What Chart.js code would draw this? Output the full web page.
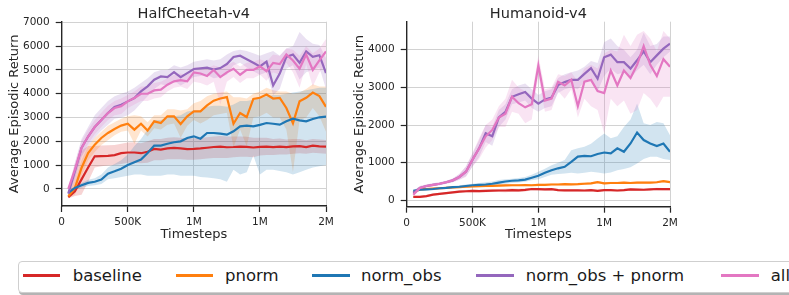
<!DOCTYPE html>
<html><head><meta charset="utf-8">
<script src="https://cdn.jsdelivr.net/npm/chart.js@4.4.1/dist/chart.umd.min.js"></script>
<style>
html,body{margin:0;padding:0;background:#fff;width:789px;height:295px;overflow:hidden;font-family:"DejaVu Sans",sans-serif;}
canvas{position:absolute;top:0;}
#c1{left:0;}
#c2{left:345px;}
#legendBox{position:absolute;left:18px;top:261px;width:820px;height:30px;border:1px solid #cfcfcf;border-radius:4px;box-shadow:1px 2px 0 #b4b4b4;background:#fff;}
.lline{position:absolute;top:273.5px;height:3px;}
.ltext{position:absolute;top:266px;font-size:16.5px;line-height:20px;color:#1a1a1a;white-space:pre;font-family:"DejaVu Sans",sans-serif;}
</style></head>
<body>
<canvas id="c1" width="345" height="250"></canvas>
<canvas id="c2" width="345" height="250"></canvas>
<div id="legendBox"></div>
<div id="legendItems"></div>
<script>
const timesteps = [50000,100000,150000,200000,250000,300000,350000,400000,450000,500000,
 550000,600000,650000,700000,750000,800000,850000,900000,950000,1000000,
 1050000,1100000,1150000,1200000,1250000,1300000,1350000,1400000,1450000,1500000,
 1550000,1600000,1650000,1700000,1750000,1800000,1850000,1900000,1950000,2000000];
const xTickValues = [0,500000,1000000,1500000,2000000];
const xTickLabels = ["0","500K","1M","1M","2M"];
const hcYTicks = [0,1000,2000,3000,4000,5000,6000,7000];
const hmYTicks = [0,1000,2000,3000,4000];
const panelTitles = ["HalfCheetah-v4","Humanoid-v4"];
const xTitle = "Timesteps";
const yTitle = "Average Episodic Return";
const seriesNames = ["baseline","pnorm","norm_obs","norm_obs + pnorm","all"];
const seriesColors = ["#d62728","#ff7f0e","#1f77b4","#9467bd","#e377c2"];
const bandColors = ["rgba(214,39,40,0.2)","rgba(255,127,14,0.2)","rgba(31,119,180,0.2)","rgba(148,103,189,0.2)","rgba(227,119,194,0.2)"];

// HalfCheetah-v4
const hcBaseline = [-350,-100,400,900,1370,1380,1390,1420,1500,1530,
 1530,1500,1560,1680,1650,1700,1720,1700,1670,1680,
 1700,1730,1760,1780,1750,1760,1780,1770,1740,1770,
 1780,1760,1780,1760,1790,1800,1760,1820,1790,1780];
const hcBaselineLo = [-400,-300,-250,300,900,950,980,1000,1050,1100,
 1100,1080,1100,1200,1200,1250,1250,1250,1220,1230,
 1250,1280,1300,1300,1300,1330,1350,1350,1330,1400,
 1420,1420,1450,1450,1480,1500,1480,1520,1500,1480];
const hcBaselineHi = [-280,600,1600,1800,1800,1820,1830,1850,1900,1950,
 1960,1920,2000,2100,2100,2150,2170,2150,2120,2130,
 2150,2170,2200,2220,2200,2200,2200,2190,2150,2150,
 2150,2100,2120,2080,2100,2100,2050,2100,2080,2060];
const hcPnorm = [-310,40,880,1510,1860,2140,2350,2520,2660,2740,
 2490,2740,2450,2840,2770,3050,3050,2730,3050,3260,
 3260,3510,3710,3800,3860,2740,3190,3020,3780,3830,
 3970,3800,3830,3400,2760,3680,3830,4050,3900,3450];
const hcPnormLo = [-380,-250,550,1200,1550,1850,2050,2250,2400,2450,
 1900,2450,2200,2550,2500,2700,2750,2150,2650,2900,
 2750,2900,3100,3150,3200,1750,2500,1800,3000,3050,
 3200,3000,3000,2500,700,2900,3000,3400,3050,2400];
const hcPnormHi = [-250,350,1200,1800,2150,2400,2650,2800,2950,3050,
 3100,3050,2800,3100,3100,3350,3350,3300,3350,3600,
 3700,3900,4000,4050,4100,3850,3850,3800,4000,4100,
 4250,4150,4100,4100,4000,4050,4200,4400,4300,4300];
const hcNormObs = [-170,40,150,250,300,390,640,740,850,1000,
 1120,1230,1510,1820,1820,1900,1960,2000,2140,2210,
 2110,2350,2350,2320,2280,2420,2630,2660,2630,2690,
 2770,2740,2700,2840,2950,2880,2840,2940,3010,3040];
const hcNormObsLo = [-250,-50,50,120,150,200,400,450,500,550,
 600,600,550,550,550,600,600,550,550,550,
 500,480,450,400,300,800,600,700,1400,600,
 800,800,750,700,600,700,800,900,950,1000];
const hcNormObsHi = [-100,120,250,380,450,600,900,1050,1200,1450,
 1800,2100,2500,2900,2900,3000,3050,3100,3250,3300,
 3300,3450,3500,3500,3450,3550,3700,3700,3750,3800,
 3900,3950,3950,4000,4050,4100,4150,4200,4250,4250];
const hcNormObsPnorm = [-200,740,1720,2200,2600,2900,3190,3440,3540,3680,
 3820,4100,4310,4590,4730,4700,4910,4700,4870,5040,
 5070,5100,5020,5080,5250,5550,5600,5450,5300,5150,
 5350,4350,4850,5550,5650,5300,5780,5550,5620,4870];
const hcNormObsPnormLo = [-350,400,1350,1800,2150,2450,2700,2950,3000,3100,
 3300,3600,3900,4200,4400,4350,4550,4350,4500,4700,
 4750,4800,4650,4700,4800,5200,5300,5100,4950,4800,
 4900,3950,4200,5050,5200,4600,4900,5000,5100,4200];
const hcNormObsPnormHi = [-50,1100,2100,2600,3100,3400,3700,3900,4000,4100,
 4250,4450,4650,4900,5000,5000,5200,5100,5200,5350,
 5400,5450,5400,5450,5650,5800,5850,5800,5700,5600,
 5700,5800,5600,5900,6000,6600,6300,6100,6050,5500];
const hcAll = [0,810,1720,2200,2600,2900,3190,3400,3480,3680,
 3820,4000,4000,4140,4170,4380,4520,4570,4520,4900,
 4850,4750,5000,4700,4900,5050,4800,5000,5000,5150,
 4950,5300,5250,5650,5400,5050,5650,5000,5400,5780];
const hcAllLo = [-100,500,1400,1900,2300,2600,2900,3100,3150,3400,
 3550,3700,3700,3800,3850,4100,4250,4300,4200,4500,
 4450,4350,4500,3550,4500,4700,4450,4650,4650,4800,
 4550,4900,4800,5300,4900,4250,5250,4300,4900,5200];
const hcAllHi = [100,1100,2000,2500,2900,3200,3500,3700,3800,3950,
 4100,4300,4300,4450,4500,4650,4800,4850,4800,5100,
 5100,5050,5200,5100,5200,5350,5150,5300,5350,5450,
 5350,5650,5600,5900,5850,5600,6000,5700,5900,6300];

// Humanoid-v4
const hmBaseline = [90,90,110,150,170,190,210,230,240,250,
 245,250,255,260,260,270,265,275,300,295,
 290,295,270,265,265,265,260,270,250,270,
 270,260,270,290,285,280,290,300,295,295];
const hmBaselineLo = [60,60,80,120,140,160,180,195,205,215,
 210,215,220,220,215,225,220,235,265,260,
 255,260,240,235,235,235,230,240,220,240,
 240,230,240,255,250,250,260,265,260,260];
const hmBaselineHi = [120,120,140,180,200,220,240,265,275,285,
 280,285,290,300,305,315,310,315,335,330,
 325,330,300,295,295,295,290,300,280,300,
 300,290,300,325,320,310,320,335,330,330];
const hmPnorm = [200,290,300,310,320,330,340,350,360,370,
 375,380,385,390,395,400,400,405,400,410,
 410,420,420,430,425,430,440,450,480,450,
 460,460,470,460,470,470,470,480,510,480];
const hmPnormLo = [170,260,270,280,290,300,310,320,330,340,
 345,350,355,360,365,370,370,375,370,380,
 380,390,390,400,395,400,410,420,450,420,
 430,430,440,430,440,440,440,450,480,450];
const hmPnormHi = [230,320,330,340,350,360,370,380,390,400,
 405,410,415,420,425,430,430,435,430,440,
 440,450,450,460,455,460,470,480,510,480,
 490,490,500,490,500,500,500,510,540,510];
const hmNormObs = [250,280,290,300,320,330,350,360,380,400,
 410,420,440,470,500,520,530,550,600,650,
 730,800,850,890,1020,1160,1180,1170,1230,1270,
 1245,1380,1290,1510,1800,1600,1510,1440,1510,1290];
const hmNormObsLo = [220,250,260,270,290,300,320,330,340,360,
 370,370,390,410,440,460,470,490,530,560,
 620,680,700,715,730,715,730,760,740,715,
 740,800,830,880,980,1100,1160,1160,1100,1070];
const hmNormObsHi = [280,310,320,330,350,360,380,400,420,440,
 460,480,500,540,560,570,590,620,680,760,
 840,930,1000,1070,1330,1380,1420,1500,1640,1775,
 1650,1700,1950,2150,2570,2050,2000,2080,2050,1730];
const hmNormObsPnorm = [200,330,380,410,440,480,530,620,760,1080,
 1380,1780,1700,2200,2350,2750,2820,2880,2700,2570,
 2680,2730,3060,3140,3200,3200,3360,3510,3230,3800,
 3870,3670,3670,3500,3720,3960,3670,3850,4030,4160];
const hmNormObsPnormLo = [140,280,340,370,400,440,480,550,640,900,
 1150,1550,1450,1950,2150,2550,2600,2650,2450,2350,
 2450,2500,2850,2950,3000,2950,3150,3250,2900,3300,
 3500,3350,3400,3250,3450,3600,3350,3600,3800,3950];
const hmNormObsPnormHi = [260,380,420,450,480,520,580,700,900,1250,
 1600,2000,1950,2400,2550,2950,3050,3100,2950,2800,
 2900,2950,3250,3350,3400,3450,3550,3700,3650,4200,
 4300,4100,4000,3800,4000,4450,4100,4150,4350,4350];
const hmAll = [150,330,380,410,440,480,530,620,760,1080,
 1380,1700,1870,2200,2300,2750,2580,2470,2550,3580,
 2650,2700,3150,3050,3200,2500,3150,3200,2900,2850,
 3450,3050,3450,3250,3600,4100,3600,3300,3750,3550];
const hmAllLo = [100,280,340,370,400,440,480,540,620,900,
 1100,1400,1600,1950,1950,2350,2300,2050,2150,3300,
 2350,2400,2900,2700,2950,2200,2700,2500,2400,1780,
 2700,2500,2650,2300,2400,2850,2700,2450,2750,2750];
const hmAllHi = [200,380,420,450,480,520,580,700,900,1250,
 1650,2000,2150,2500,2700,3200,3000,2900,2800,3850,
 2950,3000,3350,3300,3400,3150,3500,3600,3500,3900,
 4000,3950,4400,4100,4400,4500,4300,3950,4500,4300];

const FONT = "DejaVu Sans";
const TEXT = "#262626";

function pts(arr){ return arr.map((v,i)=>({x:timesteps[i], y:v})); }

function buildDatasets(means, los, his){
  const ds = [];
  for(let i=0;i<means.length;i++){
    ds.push({label:seriesNames[i]+" hi", data:pts(his[i]), fill:'+1', backgroundColor:bandColors[i],
      borderColor:'rgba(0,0,0,0)', borderWidth:0, pointRadius:0, order:20-i});
    ds.push({label:seriesNames[i]+" lo", data:pts(los[i]), fill:false,
      borderColor:'rgba(0,0,0,0)', borderWidth:0, pointRadius:0, order:20-i});
  }
  for(let i=0;i<means.length;i++){
    ds.push({label:seriesNames[i], data:pts(means[i]), fill:false, borderColor:seriesColors[i],
      borderWidth:2.2, pointRadius:0, tension:0, order:10-i});
  }
  return ds;
}

const panelTitlePlugin = {
  id:'panelTitle',
  afterDraw(chart, args, opts){
    const {ctx, chartArea} = chart;
    ctx.save();
    ctx.font = '14.5px "' + FONT + '"';
    ctx.fillStyle = TEXT;
    ctx.textAlign = 'center';
    ctx.textBaseline = 'alphabetic';
    ctx.fillText(opts.text, (chartArea.left + chartArea.right)/2, 18.3);
    ctx.restore();
  }
};

function makeChart(id, title, means, los, his, yMin, yMax, yTicks, padRight, xH){
  return new Chart(document.getElementById(id), {
    type:'line',
    data:{datasets:buildDatasets(means, los, his)},
    plugins:[panelTitlePlugin],
    options:{
      responsive:false, animation:false, devicePixelRatio:1,
      layout:{padding:{left:0, right:padRight, top:21.7, bottom:0}},
      plugins:{legend:{display:false}, tooltip:{enabled:false}, panelTitle:{text:title}},
      scales:{
        x:{type:'linear', min:0, max:2000000,
          afterBuildTicks(s){ s.ticks = xTickValues.map(v=>({value:v})); },
          afterFit(s){ s.height = xH; },
          ticks:{callback:(v,i)=>xTickLabels[i], font:{family:FONT, size:10.5}, color:TEXT, padding:4, maxRotation:0, autoSkip:false},
          grid:{color:'#d2d2d2', lineWidth:1, tickColor:TEXT, tickLength:6, tickWidth:1.2},
          border:{display:true, color:TEXT, width:1.4},
          title:{display:true, text:xTitle, font:{family:FONT, size:13}, color:TEXT, padding:{top:0, bottom:7.2}}
        },
        y:{type:'linear', min:yMin, max:yMax,
          afterBuildTicks(s){ s.ticks = yTicks.map(v=>({value:v})); },
          afterFit(s){ s.width = 61.7; },
          ticks:{callback:(v)=>String(v), font:{family:FONT, size:10.5}, color:TEXT, padding:6, autoSkip:false},
          grid:{color:'#d2d2d2', lineWidth:1, tickColor:TEXT, tickLength:6, tickWidth:1.2},
          border:{display:true, color:TEXT, width:1.4},
          title:{display:true, text:yTitle, font:{family:FONT, size:13}, color:TEXT, padding:{top:6.5, bottom:0}}
        }
      }
    }
  });
}

makeChart('c1', panelTitles[0],
  [hcBaseline, hcPnorm, hcNormObs, hcNormObsPnorm, hcAll],
  [hcBaselineLo, hcPnormLo, hcNormObsLo, hcNormObsPnormLo, hcAllLo],
  [hcBaselineHi, hcPnormHi, hcNormObsHi, hcNormObsPnormHi, hcAllHi],
  -720, 7030, hcYTicks, 19, 44);
makeChart('c2', panelTitles[1],
  [hmBaseline, hmPnorm, hmNormObs, hmNormObsPnorm, hmAll],
  [hmBaselineLo, hmPnormLo, hmNormObsLo, hmNormObsPnormLo, hmAllLo],
  [hmBaselineHi, hmPnormHi, hmNormObsHi, hmNormObsPnormHi, hmAllHi],
  -170, 4745, hmYTicks, 20, 43.3);

// Legend (HTML)
const legendLineX = [22.7, 175.7, 312, 476, 721];
const legendTextX = [72.7, 225, 361, 525.7, 770.7];
const li = document.getElementById('legendItems');
seriesNames.forEach((name,i)=>{
  const l = document.createElement('div');
  l.className = 'lline';
  l.style.left = legendLineX[i] + 'px';
  l.style.width = '37.5px';
  l.style.background = seriesColors[i];
  li.appendChild(l);
  const t = document.createElement('div');
  t.className = 'ltext';
  t.style.left = legendTextX[i] + 'px';
  t.textContent = name;
  li.appendChild(t);
});
</script>
</body></html>
